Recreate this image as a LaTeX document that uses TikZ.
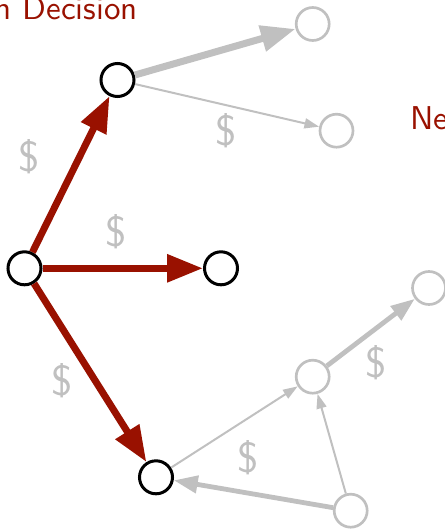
\documentclass[tikz,border=0pt]{standalone}
\usetikzlibrary{arrows.meta}
\definecolor{dred}{RGB}{153,17,0}
\definecolor{lgray}{RGB}{192,192,192}
\newcommand{\dlr}{\scalebox{3.2}{\fontsize{10}{12}\selectfont\sffamily\$}}
\newcommand{\ttl}[1]{\scalebox{2.475}{\fontsize{10}{12}\selectfont\sffamily #1}}
\tikzset{
  px/.style={x=0.75pt,y=-0.75pt},
  stnode/.style={circle,draw=black,fill=white,line width=2.25pt,minimum size=24.75pt,inner sep=0pt},
  gnode/.style={circle,draw=lgray,fill=white,line width=2pt,minimum size=24.75pt,inner sep=0pt},
  redarrow/.style={draw=dred,line width=5.25pt,-{Triangle[length=27pt,width=20pt]}},
  gthick/.style={draw=lgray,line width=5.25pt,-{Triangle[length=26pt,width=19pt]}},
  gmed/.style={draw=lgray,line width=3.6pt,-{Triangle[length=18pt,width=12.75pt]}},
  gthin/.style={draw=lgray,line width=1.5pt,-{Triangle[length=11pt,width=7.5pt]}},
  dollar/.style={text=lgray,inner sep=0pt},
  title/.style={text=dred,inner sep=0pt}
}
\begin{document}
\begin{tikzpicture}[px]
\useasboundingbox (0,0) rectangle (445,529);
% nodes
\node[stnode] (A) at (24.5,268.3) {};
\node[stnode] (B) at (117.5,80) {};
\node[stnode] (C) at (221,268.3) {};
\node[stnode] (D) at (156,477.3) {};
\node[gnode] (E) at (312.7,24) {};
\node[gnode] (F) at (336.5,130.7) {};
\node[gnode] (G) at (312.7,376.7) {};
\node[gnode] (H) at (429,288) {};
\node[gnode] (I) at (350.7,510.7) {};
% edges
\draw[redarrow] (A) -- (B);
\draw[redarrow] (A) -- (C);
\draw[redarrow] (A) -- (D);
\draw[gthick] (B) -- (E);
\draw[gthin] (B) -- (F);
\draw[gthin] (D) -- (G);
\draw[gmed] (G) -- (H);
\draw[gthin] (I) -- (G);
\draw[gmed] (I) -- (D);
% dollar labels
\node[dollar] (d1) at (29,157) {\dlr};
\node[dollar] (d2) at (116.5,231.5) {\dlr};
\node[dollar] (d3) at (226,131) {\dlr};
\node[dollar] (d4) at (62,381) {\dlr};
\node[dollar] (d5) at (376,362.5) {\dlr};
\node[dollar] (d6) at (248.5,458) {\dlr};
% titles
\node[title,anchor=base east] (t1) at (138,19) {\ttl{n Decision}};
\node[title,anchor=base west] (t2) at (410,129) {\ttl{Ne}};
\end{tikzpicture}
\end{document}
